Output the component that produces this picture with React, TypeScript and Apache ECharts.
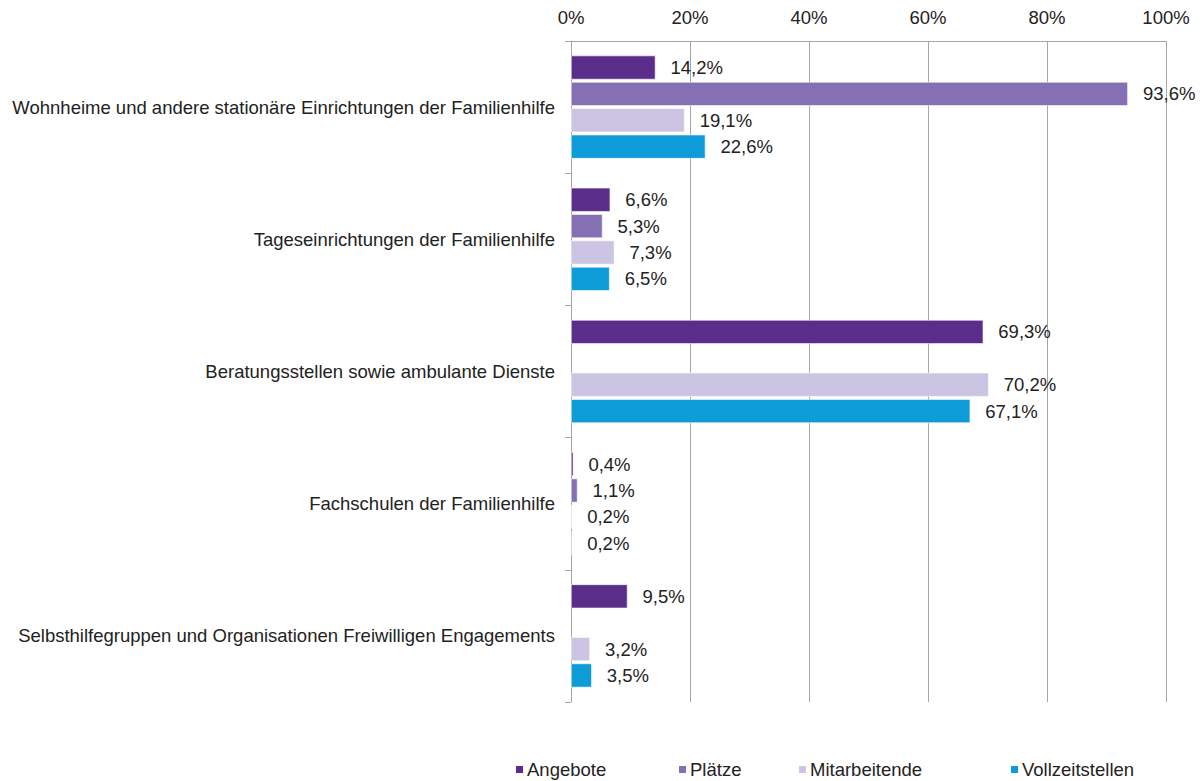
import React, { useEffect, useRef } from "react";
import * as echarts from "echarts";

const categories = [
  "Wohnheime und andere stationäre Einrichtungen der Familienhilfe",
  "Tageseinrichtungen der Familienhilfe",
  "Beratungsstellen sowie ambulante Dienste",
  "Fachschulen der Familienhilfe",
  "Selbsthilfegruppen und Organisationen Freiwilligen Engagements",
];
const seriesNames = ["Angebote", "Plätze", "Mitarbeitende", "Vollzeitstellen"];
const angebote = [14.2, 6.6, 69.3, 0.4, 9.5];
const plaetze: (number | string)[] = [93.6, 5.3, "-", 1.1, "-"];
const mitarbeitende = [19.1, 7.3, 70.2, 0.2, 3.2];
const vollzeitstellen = [22.6, 6.5, 67.1, 0.2, 3.5];
const xTicks = [0, 20, 40, 60, 80, 100];
const colors = ["#5B2D8A", "#8470B3", "#CBC4E2", "#0E9CD8"];
const legendLefts = [514, 677, 797, 1009];

const FONT = "Liberation Sans, Arial, sans-serif";
const FS = 18.5;

export default function App() {
  const ref = useRef<HTMLDivElement>(null);
  useEffect(() => {
    document.body.style.margin = "0";
    if (!ref.current) return;
    const chart = echarts.init(ref.current, undefined, { renderer: "svg" });
    const allData = [angebote, plaetze, mitarbeitende, vollzeitstellen];
    const fmt = (v: number) => v.toFixed(1).replace(".", ",") + "%";
    chart.setOption({
      animation: false,
      textStyle: { fontFamily: FONT },
      grid: { left: 571, right: 37, top: 41, bottom: 79, containLabel: false },
      legend: seriesNames.map((n, i) => ({
        data: [n],
        left: legendLefts[i],
        top: 760,
        itemWidth: 9,
        itemHeight: 9,
        itemGap: 3,
        icon: "rect",
        textStyle: { fontSize: FS, color: "#222", fontFamily: FONT, padding: [0, 0, 0, -2] },
        padding: 0,
      })),
      xAxis: {
        type: "value",
        position: "top",
        min: xTicks[0],
        max: xTicks[xTicks.length - 1],
        interval: 20,
        axisLine: { show: true, lineStyle: { color: "#A6A6A6", width: 1 } },
        axisTick: { show: false },
        splitLine: { show: true, lineStyle: { color: "#A6A6A6", width: 1 } },
        axisLabel: { fontSize: FS, color: "#222", margin: 14, formatter: "{value}%" },
      },
      yAxis: {
        type: "category",
        inverse: true,
        data: categories,
        axisLine: { show: true, lineStyle: { color: "#A6A6A6", width: 1 } },
        axisTick: { show: true, length: 6, lineStyle: { color: "#A6A6A6" } },
        axisLabel: { fontSize: FS, color: "#222", margin: 16 },
      },
      series: seriesNames.map((name, i) => ({
        name,
        type: "bar",
        data: allData[i],
        barCategoryGap: "22%",
        barGap: "10%",
        itemStyle: { color: colors[i], borderColor: "#fff", borderWidth: 0.6 },
        label: {
          show: true,
          position: "right",
          distance: 15,
          fontSize: FS,
          color: "#222",
          fontFamily: FONT,
          formatter: (p: any) => fmt(p.value),
        },
      })),
    });
    return () => chart.dispose();
  }, []);
  return <div ref={ref} style={{ width: 1203, height: 781, position: "absolute", left: 0, top: 0 }} />;
}
